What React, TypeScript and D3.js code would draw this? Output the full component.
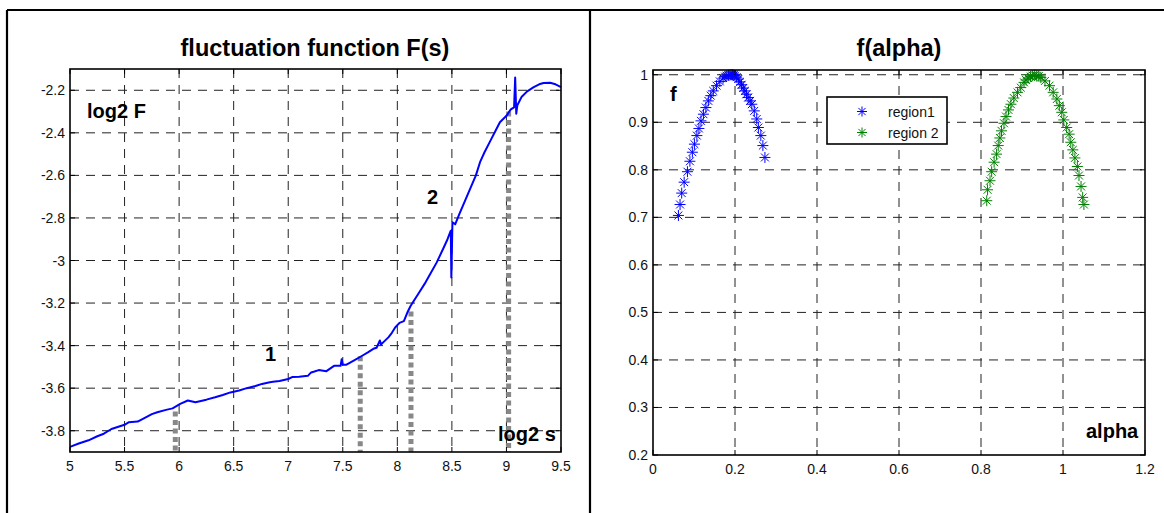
import React from 'react';
import * as d3 from 'd3';

// fluctuation function (log2 s vs log2 F)
const logS = [
  5.0, 5.08, 5.17, 5.25, 5.31, 5.38, 5.45, 5.5, 5.54, 5.62, 5.69, 5.75, 5.8, 5.88, 5.94,
  6.01, 6.08, 6.15, 6.25, 6.33, 6.4, 6.47, 6.55, 6.62, 6.7, 6.76, 6.82, 6.86, 6.92,
  7.0, 7.04, 7.1, 7.18, 7.21, 7.24, 7.28, 7.35, 7.42, 7.48, 7.49, 7.5, 7.53, 7.6, 7.67,
  7.73, 7.78, 7.81, 7.84, 7.85, 7.88, 7.92, 7.95, 7.98, 8.02, 8.06, 8.09, 8.12, 8.15,
  8.2, 8.25, 8.3, 8.36, 8.42, 8.46, 8.49, 8.495, 8.505, 8.53, 8.57, 8.62, 8.67, 8.72,
  8.76, 8.8, 8.85, 8.9, 8.94, 9.0, 9.04, 9.07, 9.08, 9.09, 9.1, 9.14, 9.19, 9.25, 9.3,
  9.34, 9.4, 9.45, 9.5,
];
const logF = [
  -3.876, -3.86, -3.845, -3.826, -3.814, -3.792, -3.78, -3.772, -3.76, -3.757, -3.738,
  -3.722, -3.713, -3.702, -3.695, -3.674, -3.658, -3.666, -3.654, -3.643, -3.632, -3.62,
  -3.611, -3.6, -3.59, -3.58, -3.573, -3.57, -3.566, -3.557, -3.547, -3.546, -3.542,
  -3.526, -3.522, -3.515, -3.52, -3.495, -3.495, -3.464, -3.49, -3.49, -3.47, -3.45,
  -3.432, -3.415, -3.41, -3.376, -3.395, -3.38, -3.36, -3.34, -3.315, -3.293, -3.285,
  -3.247, -3.215, -3.19, -3.15, -3.11, -3.065, -3.01, -2.945, -2.9, -2.86, -3.08, -2.82,
  -2.83, -2.78, -2.72, -2.66, -2.6, -2.535, -2.49, -2.44, -2.39, -2.35, -2.32, -2.29,
  -2.28, -2.14, -2.31, -2.27, -2.23, -2.205, -2.185, -2.172, -2.166, -2.165, -2.172, -2.185,
];

// region boundaries (grey dotted verticals)
const boundaryS = [5.965, 7.66, 8.125, 9.02];
const boundaryTop = [-3.71, -3.45, -3.24, -2.3];

// f(alpha) spectra
const region1Alpha = [
  0.062, 0.066, 0.07, 0.076, 0.084, 0.09, 0.096, 0.101, 0.107, 0.112, 0.117, 0.123, 0.129,
  0.135, 0.141, 0.147, 0.155, 0.163, 0.171, 0.176, 0.18, 0.184, 0.188, 0.191, 0.194, 0.197,
  0.2, 0.204, 0.208, 0.212, 0.216, 0.22, 0.224, 0.228, 0.232, 0.237, 0.241, 0.247, 0.253,
  0.257, 0.263, 0.268, 0.273,
];
const region1F = [
  0.704, 0.727, 0.751, 0.774, 0.796, 0.818, 0.837, 0.854, 0.872, 0.887, 0.903, 0.917, 0.931,
  0.945, 0.956, 0.966, 0.977, 0.986, 0.993, 0.996, 0.998, 0.999, 1.0, 1.0, 1.0, 0.999,
  0.998, 0.995, 0.991, 0.985, 0.979, 0.972, 0.966, 0.959, 0.952, 0.945, 0.938, 0.924, 0.907,
  0.889, 0.872, 0.851, 0.826,
];
const region2Alpha = [
  0.814, 0.816, 0.822, 0.826, 0.832, 0.838, 0.842, 0.846, 0.85, 0.856, 0.861, 0.867, 0.873,
  0.88, 0.889, 0.897, 0.905, 0.91, 0.915, 0.921, 0.926, 0.931, 0.936, 0.941, 0.946, 0.956,
  0.967, 0.976, 0.985, 0.991, 0.997, 1.002, 1.009, 1.015, 1.019, 1.024, 1.029, 1.035,
  1.039, 1.044, 1.048, 1.051,
];
const region2F = [
  0.735, 0.758, 0.777, 0.796, 0.816, 0.833, 0.851, 0.867, 0.882, 0.898, 0.912, 0.926, 0.938,
  0.951, 0.963, 0.973, 0.984, 0.989, 0.993, 0.996, 0.998, 0.999, 0.998, 0.997, 0.994, 0.987,
  0.977, 0.963, 0.949, 0.935, 0.921, 0.905, 0.889, 0.875, 0.858, 0.842, 0.825, 0.807,
  0.788, 0.765, 0.742, 0.727,
];

const leftXTicks = [5, 5.5, 6, 6.5, 7, 7.5, 8, 8.5, 9, 9.5];
const leftYTicks = [-2.2, -2.4, -2.6, -2.8, -3, -3.2, -3.4, -3.6, -3.8];
const rightXTicks = [0, 0.2, 0.4, 0.6, 0.8, 1, 1.2];
const rightYTicks = [0.2, 0.3, 0.4, 0.5, 0.6, 0.7, 0.8, 0.9, 1];
const legendLabels = ['region1', 'region 2'];
const seriesColors = ['#0000ff', '#008000'];

const FONT = '"Liberation Sans", Arial, Helvetica, sans-serif';
const GRID_DASH = '9,7';
const TICK_FONT = 14;

const star = (x: number, y: number, r: number) => {
  const d = r * 0.72;
  return `M${x - r},${y}H${x + r}M${x},${y - r}V${y + r}M${x - d},${y - d}L${x + d},${y + d}M${x - d},${y + d}L${x + d},${y - d}`;
};

const Frame = ({ x, y, xTicks, yTicks }: any) => {
  const [x0, x1] = x.range();
  const [y0, y1] = y.range();
  const xd = x.domain();
  const yd = y.domain();
  return (
    <g>
      {xTicks.filter((t: number) => t > xd[0] && t < xd[1]).map((t: number) => (
        <line key={'gx' + t} x1={x(t)} x2={x(t)} y1={y1} y2={y0} stroke="#222" strokeDasharray={GRID_DASH} />
      ))}
      {yTicks.filter((t: number) => t > yd[0] && t < yd[1]).map((t: number) => (
        <line key={'gy' + t} x1={x0} x2={x1} y1={y(t)} y2={y(t)} stroke="#222" strokeDasharray={GRID_DASH} />
      ))}
    </g>
  );
};

const Box = ({ x, y, xTicks, yTicks }: any) => {
  const [x0, x1] = x.range();
  const [y0, y1] = y.range();
  return (
    <g>
      {xTicks.map((t: number) => (
        <g key={'tx' + t}>
          <line x1={x(t)} x2={x(t)} y1={y0} y2={y0 - 5} stroke="#000" />
          <line x1={x(t)} x2={x(t)} y1={y1} y2={y1 + 5} stroke="#000" />
          <text x={x(t)} y={y0 + 19} textAnchor="middle" fontSize={TICK_FONT} fontFamily={FONT} fill="#111">
            {String(t)}
          </text>
        </g>
      ))}
      {yTicks.map((t: number) => (
        <g key={'ty' + t}>
          <line x1={x0} x2={x0 + 5} y1={y(t)} y2={y(t)} stroke="#000" />
          <line x1={x1} x2={x1 - 5} y1={y(t)} y2={y(t)} stroke="#000" />
          <text x={x0 - 5} y={y(t) + 5} textAnchor="end" fontSize={TICK_FONT} fontFamily={FONT} fill="#111">
            {String(t)}
          </text>
        </g>
      ))}
      <rect x={x0} y={y1} width={x1 - x0} height={y0 - y1} fill="none" stroke="#000" strokeWidth={1.6} />
    </g>
  );
};

export default function App() {
  const lx = d3.scaleLinear().domain([5, 9.5]).range([70, 561]);
  const ly = d3.scaleLinear().domain([-3.9, -2.1]).range([452, 69]);
  const rx = d3.scaleLinear().domain([0, 1.2]).range([653, 1145]);
  const ry = d3.scaleLinear().domain([0.2, 1.01]).range([455, 70]);

  const curve = d3
    .line<number>()
    .x((d) => lx(d))
    .y((_, i) => ly(logF[i]))(logS);

  const series = [
    { a: region1Alpha, f: region1F },
    { a: region2Alpha, f: region2F },
  ];

  return (
    <svg width={1164} height={513} style={{ position: 'absolute', left: 0, top: 0, background: '#fff' }}>
      <rect width={1164} height={513} fill="#fff" />
      {/* outer table frame */}
      <line x1={7} x2={1164} y1={10} y2={10} stroke="#000" strokeWidth={2.2} />
      <line x1={7} x2={7} y1={10} y2={513} stroke="#000" strokeWidth={2.2} />
      <line x1={590} x2={590} y1={10} y2={513} stroke="#000" strokeWidth={2.2} />

      {/* left: fluctuation function */}
      <text x={315} y={56} textAnchor="middle" fontSize={23.5} fontWeight="bold" fontFamily={FONT}>
        fluctuation function F(s)
      </text>
      <Frame x={lx} y={ly} xTicks={leftXTicks} yTicks={leftYTicks} />
      {boundaryS.map((s, i) => (
        <line
          key={'b' + i}
          x1={lx(s)}
          x2={lx(s)}
          y1={ly(boundaryTop[i])}
          y2={ly(-3.9)}
          stroke="#888"
          strokeWidth={5}
          strokeDasharray="5,3.5"
        />
      ))}
      <path d={curve || ''} fill="none" stroke="#0000ff" strokeWidth={2} strokeLinejoin="round" />
      <Box x={lx} y={ly} xTicks={leftXTicks} yTicks={leftYTicks} />
      <g fontFamily={FONT} fontWeight="bold" fontSize={20} fill="#000">
        <text x={87} y={118}>log2 F</text>
        <text x={498} y={441}>log2 s</text>
        <text x={265} y={361}>1</text>
        <text x={427} y={204}>2</text>
      </g>

      {/* right: f(alpha) */}
      <text x={899} y={56} textAnchor="middle" fontSize={23.5} fontWeight="bold" fontFamily={FONT}>
        f(alpha)
      </text>
      <Frame x={rx} y={ry} xTicks={rightXTicks} yTicks={rightYTicks} />
      {series.map((s, k) => (
        <path
          key={'s' + k}
          d={s.a.map((a, i) => star(rx(a), ry(s.f[i]), 5.5)).join('')}
          fill="none"
          stroke={seriesColors[k]}
          strokeWidth={1}
        />
      ))}
      <Box x={rx} y={ry} xTicks={rightXTicks} yTicks={rightYTicks} />
      <g fontFamily={FONT} fontWeight="bold" fontSize={20} fill="#000">
        <text x={670} y={101}>f</text>
        <text x={1086} y={438}>alpha</text>
      </g>
      <g>
        <rect x={827} y={97} width={120} height={47} fill="#fff" stroke="#000" strokeWidth={1.6} />
        {legendLabels.map((lab, i) => (
          <g key={lab}>
            <path d={star(862, 111.5 + i * 21, 5)} stroke={seriesColors[i]} strokeWidth={1} fill="none" />
            <text x={888} y={116.5 + i * 21} fontSize={TICK_FONT} fontFamily={FONT} fill="#111">
              {lab}
            </text>
          </g>
        ))}
      </g>
    </svg>
  );
}
